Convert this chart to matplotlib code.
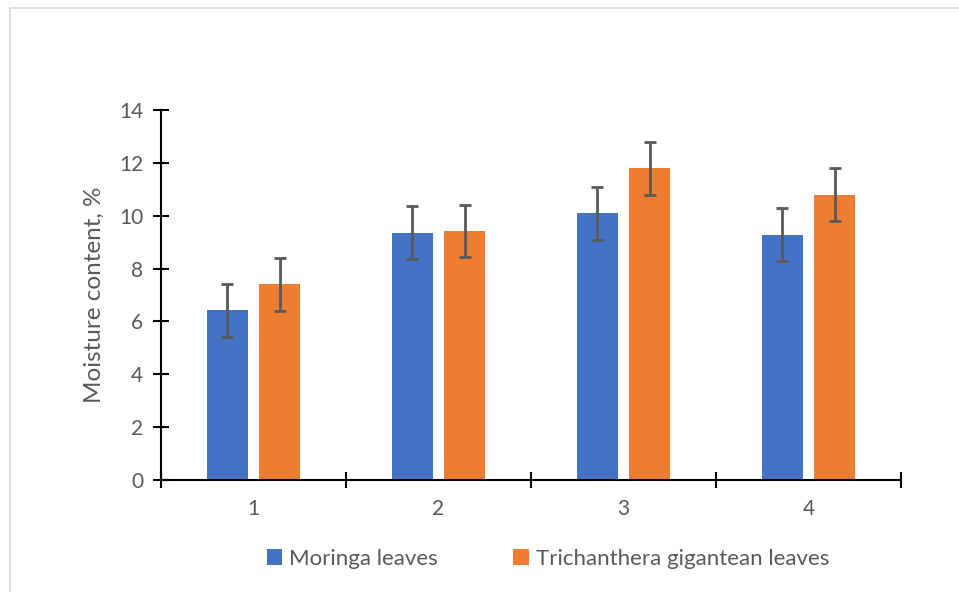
import matplotlib
matplotlib.use('Agg')
import matplotlib.pyplot as plt
import numpy as np
from matplotlib.patches import Rectangle

# Data
categories = ['1', '2', '3', '4']
moringa = [6.42, 9.36, 10.1, 9.28]
trichanthera = [7.4, 9.42, 11.8, 10.8]
moringa_err = [1, 1, 1, 1]
trichanthera_err = [1, 1, 1, 1]
series_labels = ['Moringa leaves', 'Trichanthera gigantean leaves']

plt.rcParams['font.family'] = ['Lato', 'DejaVu Sans']
text_color = '#595959'

fig = plt.figure(figsize=(9.59, 5.92), dpi=100)
ax = fig.add_axes([161 / 959, 1 - 480 / 592, 740 / 959, 370 / 592])

# Outer chart border
fig.patches.append(Rectangle((10 / 959, -0.1), 1.1, 1 - 8 / 592 + 0.1,
                             transform=fig.transFigure, fill=False,
                             edgecolor='#d9d9d9', linewidth=1.2))

x = np.arange(len(categories))
width = 0.224
offset = 0.142
err_kw = dict(ecolor='#595959', elinewidth=2.0, capsize=4.4, capthick=2.0)

ax.bar(x - offset, moringa, width, yerr=moringa_err, color='#4472C4',
       label=series_labels[0], error_kw=err_kw)
ax.bar(x + offset, trichanthera, width, yerr=trichanthera_err, color='#ED7D31',
       label=series_labels[1], error_kw=err_kw)

ax.set_xlim(-0.5, len(categories) - 0.5)
ax.set_ylim(0, 14)
ax.set_yticks(np.arange(0, 15, 2))
ax.set_xticks(x)
ax.set_xticklabels(categories)
ax.set_xticks(np.arange(-0.5, len(categories), 1), minor=True)

for side in ['top', 'right']:
    ax.spines[side].set_visible(False)
for side in ['left', 'bottom']:
    ax.spines[side].set_linewidth(1.5)
    ax.spines[side].set_color('black')

ax.tick_params(axis='y', direction='inout', length=11.5, width=1.5,
               labelsize=15, labelcolor=text_color, pad=7)
ax.tick_params(axis='x', which='major', length=0, labelsize=15,
               labelcolor=text_color, pad=14)
ax.tick_params(axis='x', which='minor', direction='inout', length=11.5, width=1.5)

ax.set_ylabel('Moisture content, %', fontsize=17.5, color=text_color, labelpad=10)

handles, labels = ax.get_legend_handles_labels()
fig.legend(handles, labels, loc='center', bbox_to_anchor=(548 / 959, 1 - 559 / 592),
           ncol=2, frameon=False, fontsize=16, labelcolor=text_color,
           handlelength=0.7, handleheight=0.7, handletextpad=0.3,
           columnspacing=3.4)

fig.savefig('out.png', dpi=100)
